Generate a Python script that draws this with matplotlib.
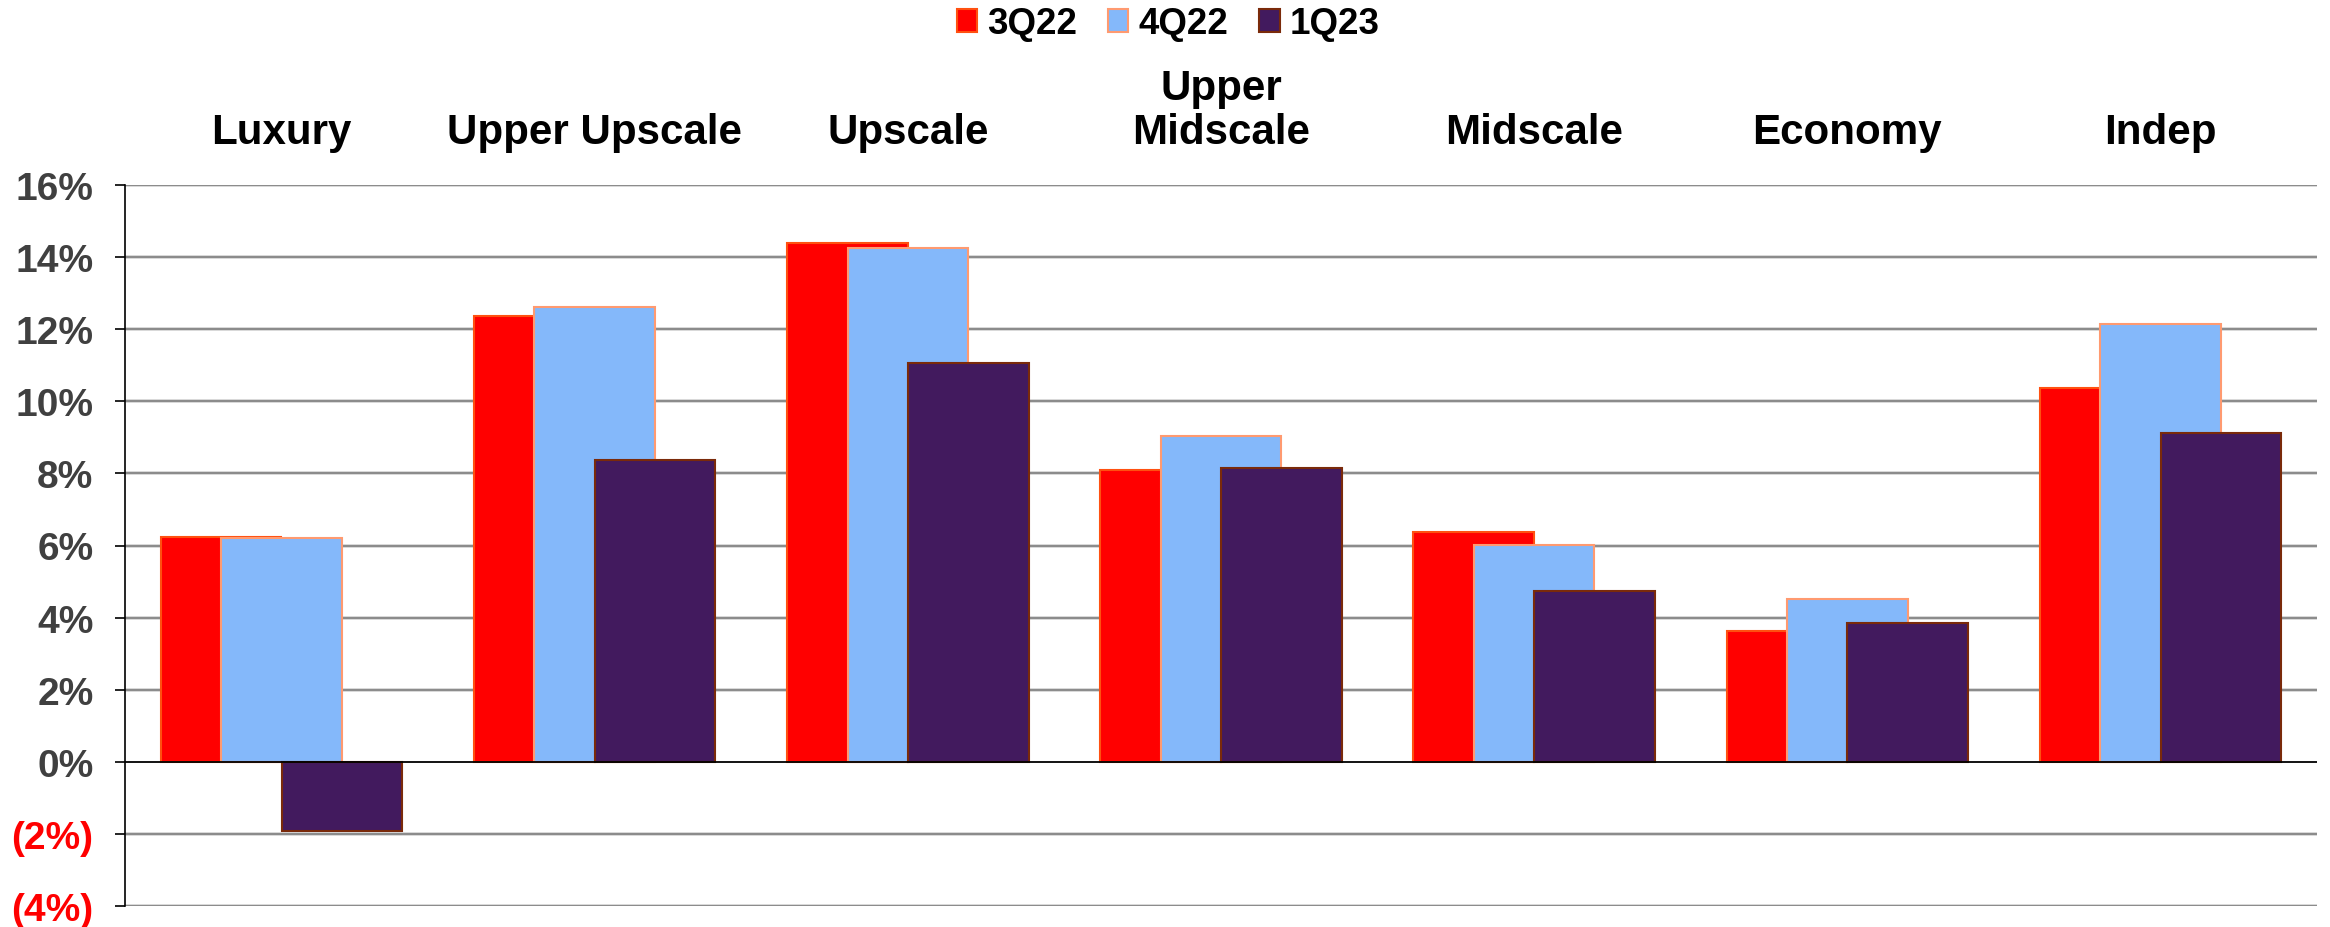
import matplotlib
matplotlib.use("Agg")
import matplotlib.pyplot as plt
from matplotlib.patches import Patch
from matplotlib.transforms import blended_transform_factory
import numpy as np

plt.rcParams['font.family'] = ['Liberation Sans', 'DejaVu Sans']
plt.rcParams['font.weight'] = 'bold'

# Chain-scale RevPAR growth by quarter (%)
categories = ["Luxury", "Upper Upscale", "Upscale", "Upper\nMidscale",
              "Midscale", "Economy", "Indep"]
series_names = ["3Q22", "4Q22", "1Q23"]
growth_3q22 = [6.23, 12.38, 14.38, 8.09, 6.38, 3.64, 10.38]
growth_4q22 = [6.22, 12.61, 14.24, 9.04, 6.01, 4.52, 12.15]
growth_1q23 = [-1.92, 8.38, 11.05, 8.15, 4.75, 3.86, 9.12]
y_ticks = [-4, -2, 0, 2, 4, 6, 8, 10, 12, 14, 16]

fills = ["#FF0000", "#84B8FA", "#421A5E"]
edges = ["#FF5010", "#FF9A70", "#7A2A0A"]

W, H = 2330, 928
fig = plt.figure(figsize=(W / 100, H / 100), dpi=100)
ax = fig.add_axes([125 / W, 1 - 907 / H, (2317 - 125) / W, (907 - 186) / H])

x = np.arange(len(categories))
bar_w = 0.385
offsets = [-0.193, 0.0, 0.193]
for i, vals in enumerate([growth_3q22, growth_4q22, growth_1q23]):
    ax.bar(x + offsets[i], vals, width=bar_w, color=fills[i],
           edgecolor=edges[i], linewidth=1.5, zorder=3 + i)

ax.set_xlim(-0.5, len(categories) - 0.5)
ax.set_ylim(y_ticks[0], y_ticks[-1])

# horizontal gridlines, zero line in black
for t in y_ticks:
    if t == 0:
        ax.axhline(t, color="#000000", linewidth=1.3, zorder=8)
    else:
        ax.axhline(t, color="#D0D0D0", linewidth=2.6, zorder=1)
        ax.axhline(t, color="#858585", linewidth=1.3, zorder=1.5)

for s in ["top", "right", "bottom"]:
    ax.spines[s].set_visible(False)
ax.spines["left"].set_color("#000000")
ax.spines["left"].set_linewidth(1.2)

ax.set_xticks([])
ax.set_yticks(y_ticks)
labels = [f"({abs(t)}%)" if t < 0 else f"{t}%" for t in y_ticks]
ax.set_yticklabels(labels)
ax.tick_params(axis="y", direction="out", length=7.2, width=1.2,
               color="#000000", pad=15.5, labelsize=28)
for lab, t in zip(ax.get_yticklabels(), y_ticks):
    lab.set_fontweight("bold")
    lab.set_color("#FF0000" if t < 0 else "#404040")

# category headers above the plot
trans = blended_transform_factory(ax.transData, fig.transFigure)
for xi, name in zip(x, categories):
    ax.text(xi, 1 - 153 / H, name, transform=trans, ha="center", va="bottom",
            fontsize=30.3, fontweight="bold", color="#000000",
            linespacing=1.12, clip_on=False)

handles = [Patch(facecolor=f, edgecolor=e, linewidth=1.5)
           for f, e in zip(fills, edges)]
fig.legend(handles, series_names, loc="center", bbox_to_anchor=(1168 / W, 1 - 25 / H),
           ncol=3, frameon=False, handlelength=0.55,
           handleheight=0.55, handletextpad=0.27, columnspacing=0.85,
           prop={"weight": "bold", "size": 26.5})

fig.savefig("out.png", dpi=100, facecolor="white")
